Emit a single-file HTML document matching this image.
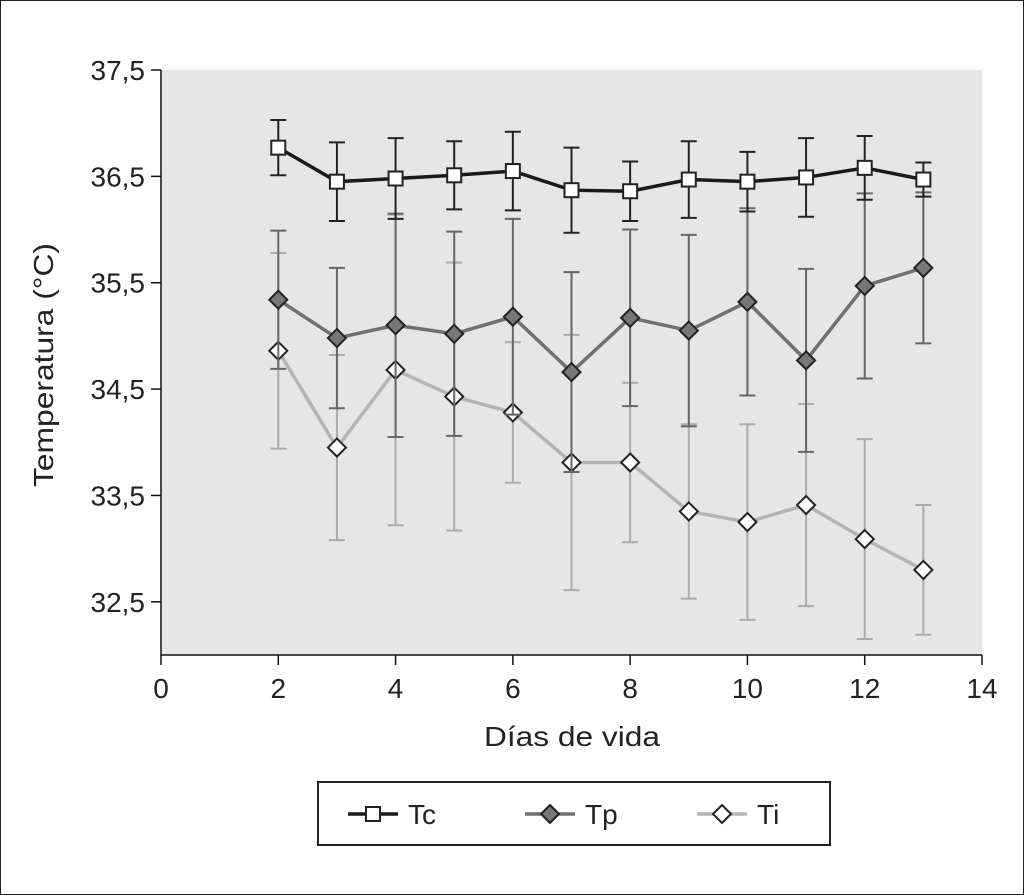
<!DOCTYPE html>
<html><head><meta charset="utf-8"><style>
html,body{margin:0;padding:0;background:#fff;}
svg{display:block;font-family:"Liberation Sans",sans-serif;}
</style></head><body>
<svg id="chart" width="1024" height="895" viewBox="0 0 1024 895">
<rect x="0.5" y="0.5" width="1023" height="894" fill="#fff" stroke="#222"/>
<g id="plot"></g>
</svg>
<script>
const days = [2,3,4,5,6,7,8,9,10,11,12,13];
const tcValues = [36.77,36.45,36.48,36.51,36.55,36.37,36.36,36.47,36.45,36.49,36.58,36.47];
const tcErrors = [0.26,0.37,0.38,0.32,0.37,0.40,0.28,0.36,0.28,0.37,0.30,0.16];
const tpValues = [35.34,34.98,35.10,35.02,35.18,34.66,35.17,35.05,35.32,34.77,35.47,35.64];
const tpErrors = [0.65,0.66,1.05,0.96,0.92,0.94,0.83,0.90,0.88,0.86,0.87,0.71];
const tiValues = [34.86,33.95,34.68,34.43,34.28,33.81,33.81,33.35,33.25,33.41,33.09,32.80];
const tiErrors = [0.92,0.87,1.46,1.26,0.66,1.20,0.75,0.82,0.92,0.95,0.94,0.61];
const xTicks = [0,2,4,6,8,10,12,14];
const yTicks = [32.5,33.5,34.5,35.5,36.5,37.5];
const yTickLabels = ["32,5","33,5","34,5","35,5","36,5","37,5"];

const NS="http://www.w3.org/2000/svg";
const L=161,R=982,T=70,B=655;
const xS=v=>L+(v-0)/(14-0)*(R-L);
const yS=v=>B-(v-32)/(37.5-32)*(B-T);
const g=document.getElementById('plot');
function mk(tag,attrs,parent){const e=document.createElementNS(NS,tag);for(const k in attrs)e.setAttribute(k,attrs[k]);(parent||g).appendChild(e);return e;}

const bg=mk('rect',{x:L,y:T,width:R-L,height:B-T,fill:'#e6e6e6'});


const ax=mk('path',{d:`M${L},${T}V${B}H${R}`,stroke:'#111','stroke-width':1.5,fill:'none'});



xTicks.forEach(t=>{
  mk('line',{x1:xS(t),x2:xS(t),y1:B,y2:B+10,stroke:'#111','stroke-width':1.5});
  const tx=mk('text',{x:xS(t),y:B+43,'font-size':28,'text-anchor':'middle',fill:'#222'});
  tx.textContent=t;
  
  
});
yTicks.forEach((t,i)=>{
  mk('line',{x1:L-10,x2:L,y1:yS(t),y2:yS(t),stroke:'#111','stroke-width':1.5});
  const tx=mk('text',{x:L-16,y:yS(t)+10,'font-size':28,'text-anchor':'end',fill:'#222'});
  tx.textContent=yTickLabels[i];
  
  
});
const xt=mk('text',{x:572,y:746,'font-size':28,'text-anchor':'middle',fill:'#222',textLength:176,lengthAdjust:'spacingAndGlyphs'});
xt.textContent='Días de vida';


const yt=mk('text',{x:0,y:0,'font-size':28,'text-anchor':'middle',fill:'#222',textLength:244,lengthAdjust:'spacingAndGlyphs',transform:`translate(53,365) rotate(-90)`});
yt.textContent='Temperatura (°C)';



function series(name,vals,errs,lineColor,errColor,marker,mFill){
  const sg=mk('g',{});
  
  
  days.forEach((d,i)=>{
    const x=xS(d),y1=yS(vals[i]+errs[i]),y2=yS(vals[i]-errs[i]);
    const e=mk('path',{d:`M${x},${y1}V${y2}M${x-8},${y1}H${x+8}M${x-8},${y2}H${x+8}`,stroke:errColor,'stroke-width':2,fill:'none'},sg);
    
    
  });
  const pl=mk('polyline',{points:days.map((d,i)=>xS(d)+','+yS(vals[i])).join(' '),stroke:lineColor,'stroke-width':3.5,fill:'none'},sg);
  
  
  days.forEach((d,i)=>{
    const x=xS(d),y=yS(vals[i]);
    let m;
    if(marker==='sq') m=mk('rect',{x:x-7,y:y-7,width:14,height:14,fill:mFill,stroke:'#222','stroke-width':2},sg);
    else m=mk('path',{d:`M${x},${y-9}L${x+9},${y}L${x},${y+9}L${x-9},${y}Z`,fill:mFill,stroke:'#222','stroke-width':2},sg);
    
    
  });
}
series('ti',tiValues,tiErrors,'#b4b4b4','#acacac','di','#fff');
series('tp',tpValues,tpErrors,'#707070','#666','di','#777');
series('tc',tcValues,tcErrors,'#1a1a1a','#222','sq','#fff');

const lg=mk('g',{});


mk('rect',{x:318,y:782,width:512,height:63,fill:'#fff',stroke:'#222','stroke-width':2},lg);
const items=[['Tc',348,'#1a1a1a','sq','#fff'],['Tp',525,'#707070','di','#777'],['Ti',697,'#b4b4b4','di','#fff']];
items.forEach(it=>{
  const [lab,x0,c,mkr,f]=it, y=814;
  const eg=mk('g',{},lg);
  
  
  mk('line',{x1:x0,x2:x0+50,y1:y,y2:y,stroke:c,'stroke-width':3.5},eg);
  const cx=x0+25;
  if(mkr==='sq') mk('rect',{x:cx-7,y:y-7,width:14,height:14,fill:f,stroke:'#222','stroke-width':2},eg);
  else mk('path',{d:`M${cx},${y-9}L${cx+9},${y}L${cx},${y+9}L${cx-9},${y}Z`,fill:f,stroke:'#222','stroke-width':2},eg);
  const t=mk('text',{x:x0+60,y:y+10,'font-size':28,fill:'#222'},eg);
  t.textContent=lab;
});
</script>
</body></html>
